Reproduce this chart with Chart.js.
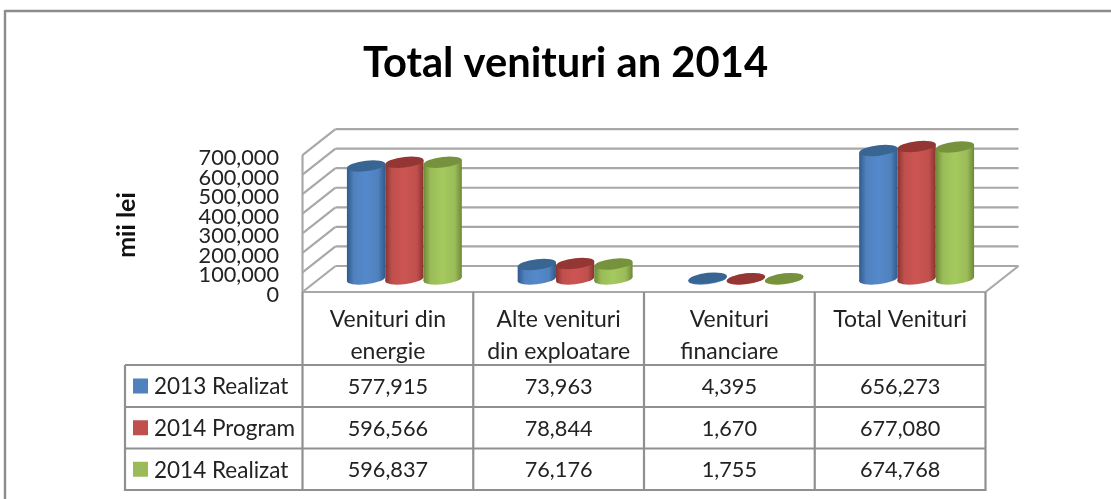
<!DOCTYPE html>
<html>
<head>
<meta charset="utf-8">
<style>
html,body{margin:0;padding:0;background:#fff;overflow:hidden}
canvas{display:block}
</style>
<script src="https://cdn.jsdelivr.net/npm/chart.js@4/dist/chart.umd.min.js"></script>
</head>
<body>
<div style="width:1111px;height:499px"><canvas id="c" width="1111" height="499"></canvas></div>
<script>
const titleText = 'Total venituri an 2014';
const yAxisTitle = 'mii lei';
const categories = [['Venituri din','energie'],['Alte venituri','din exploatare'],['Venituri','financiare'],['Total Venituri']];
const realizat2013 = [577915, 73963, 4395, 656273];
const program2014 = [596566, 78844, 1670, 677080];
const realizat2014 = [596837, 76176, 1755, 674768];
const seriesNames = ['2013 Realizat','2014 Program','2014 Realizat'];
const seriesColors = ['#4f81bd','#c0504d','#9bbb59'];
const seriesEdges = ['#2f5a8c','#8a3331','#6c8a35'];
const seriesBright = ['#5489cb','#cc5552','#a4ca5e'];
const seriesCaps = ['#386592','#943634','#76923c'];
const tickStep = 100000;
const axisMax = 700000;

const FONT = 'Lato, Carlito, Calibri, sans-serif';
const GRID = '#a8a8a8';
const TABLE = '#909090';
const DEPTH_X = 16.5, DEPTH_Y = 13;
const SHEAR = -0.11, CAP_RY = 5.3;

function line(ctx,x1,y1,x2,y2){ctx.beginPath();ctx.moveTo(x1,y1);ctx.lineTo(x2,y2);ctx.stroke();}

const scene = {
  id:'scene',
  afterLayout(chart){ chart.titleBlock.left = 20; chart.titleBlock.right = 1111; },
  beforeDatasetsDraw(chart){
    const ctx = chart.ctx, y = chart.scales.y, a = chart.chartArea;
    ctx.save();
    // outer frame
    ctx.strokeStyle = '#8c8c8c'; ctx.lineWidth = 2.4;
    line(ctx,5,11,1111,11); line(ctx,5,10,5,499);
    // walls and gridlines of the 3D box
    ctx.strokeStyle = GRID; ctx.lineWidth = 2.2;
    for (let v=0; v<=axisMax; v+=tickStep){
      const py = y.getPixelForValue(v);
      line(ctx,a.left-DEPTH_X,py+DEPTH_Y,a.left+DEPTH_X,py-DEPTH_Y);
      line(ctx,a.left+DEPTH_X,py-DEPTH_Y,a.right+DEPTH_X,py-DEPTH_Y);
    }
    line(ctx,a.left-DEPTH_X,y.getPixelForValue(axisMax)+DEPTH_Y,a.left-DEPTH_X,y.getPixelForValue(0)+DEPTH_Y);
    line(ctx,a.left-DEPTH_X,a.bottom+DEPTH_Y,a.right-DEPTH_X,a.bottom+DEPTH_Y);
    line(ctx,a.right-DEPTH_X,a.bottom+DEPTH_Y,a.right+DEPTH_X,a.bottom-DEPTH_Y);
    // cylinders: library bars, sheared, with elliptical caps
    chart.getSortedVisibleDatasetMetas().forEach((meta,di)=>{
      meta.data.forEach(el=>{
        const rx = el.width/2;
        ctx.save();
        ctx.translate(el.x,0);ctx.transform(1,SHEAR,0,1,0,0);ctx.translate(-el.x,0);
        const g = ctx.createLinearGradient(el.x-rx,0,el.x+rx,0);
        g.addColorStop(0,seriesEdges[di]);
        g.addColorStop(0.18,seriesColors[di]);
        g.addColorStop(0.5,seriesBright[di]);
        g.addColorStop(0.82,seriesColors[di]);
        g.addColorStop(1,seriesEdges[di]);
        ctx.fillStyle = g;
        ctx.beginPath();ctx.ellipse(el.x,el.base,rx,CAP_RY,0,0,Math.PI*2);ctx.fill();
        const base = el.options;
        el.options = Object.assign({},base,{backgroundColor:g,borderWidth:0});
        el.draw(ctx);
        el.options = base;
        ctx.fillStyle = seriesCaps[di];
        ctx.beginPath();ctx.ellipse(el.x,el.y,rx,CAP_RY,0,0,Math.PI*2);ctx.fill();
        ctx.restore();
      });
    });
    ctx.restore();
    return false;
  },
  afterDraw(chart){
    const ctx = chart.ctx, a = chart.chartArea;
    const cols = [0,1,2,3,4].map(i=>a.left-DEPTH_X+i*(a.right-a.left)/4);
    const rows = [365,407,448.5,490];
    const tableLeft = 125;
    ctx.save();
    ctx.strokeStyle = TABLE; ctx.lineWidth = 2.2;
    cols.forEach(cx=>line(ctx,cx,a.bottom+DEPTH_Y,cx,rows[3]+1));
    rows.forEach(ry=>line(ctx,tableLeft,ry,cols[4],ry));
    line(ctx,tableLeft,rows[0],tableLeft,rows[3]+1);
    ctx.textBaseline = 'middle';
    chart.data.datasets.forEach((ds,r)=>{
      const my = (rows[r]+rows[r+1])/2 + 1;
      ctx.fillStyle = seriesColors[r];
      ctx.fillRect(133,my-8.5,15,15);
      ctx.fillStyle = '#222';
      ctx.textAlign = 'left';
      ctx.font = '22.5px '+FONT;
      ctx.fillText(ds.label,154,my);
      ctx.textAlign = 'center';
      ctx.font = '21.7px '+FONT;
      ds.data.forEach((v,i)=>{
        ctx.fillText(v.toLocaleString('en-US'),(cols[i]+cols[i+1])/2,my);
      });
    });
    // rotated axis title
    ctx.translate(127,225);ctx.rotate(-Math.PI/2);
    ctx.font = 'bold 25px '+FONT;ctx.fillStyle='#111';ctx.textAlign='center';
    ctx.fillText(yAxisTitle,0,0);
    ctx.restore();
  }
};

new Chart(document.getElementById('c'),{
  type:'bar',
  plugins:[scene],
  data:{
    labels:categories,
    datasets:[
      {label:seriesNames[0],data:realizat2013,backgroundColor:seriesColors[0]},
      {label:seriesNames[1],data:program2014,backgroundColor:seriesColors[1]},
      {label:seriesNames[2],data:realizat2014,backgroundColor:seriesColors[2]}
    ]
  },
  options:{
    responsive:false,
    animation:false,
    events:[],
    devicePixelRatio:1,
    layout:{padding:{right:109,left:0,top:0,bottom:0}},
    categoryPercentage:0.673,
    barPercentage:1,
    plugins:{
      legend:{display:false},
      tooltip:{enabled:false},
      title:{display:true,text:titleText,color:'#000',
        font:{family:FONT,size:41.7,weight:'bold',lineHeight:1.2},
        padding:{top:39,bottom:53}}
    },
    scales:{
      x:{
        grid:{display:false},border:{display:false},
        afterFit(s){s.height=220;},
        ticks:{color:'#222',font:{family:FONT,size:23,lineHeight:1.39},padding:17,labelOffset:-DEPTH_X,maxRotation:0,autoSkip:false}
      },
      y:{
        min:0,max:axisMax,
        grid:{display:false},border:{display:false},
        afterFit(s){s.width=319;},
        ticks:{stepSize:tickStep,autoSkip:false,padding:32,labelOffset:DEPTH_Y+3,color:'#222',
          font:{family:FONT,size:21.7,lineHeight:1},
          callback:v=>v.toLocaleString('en-US')}
      }
    }
  }
});
</script>
</body>
</html>
